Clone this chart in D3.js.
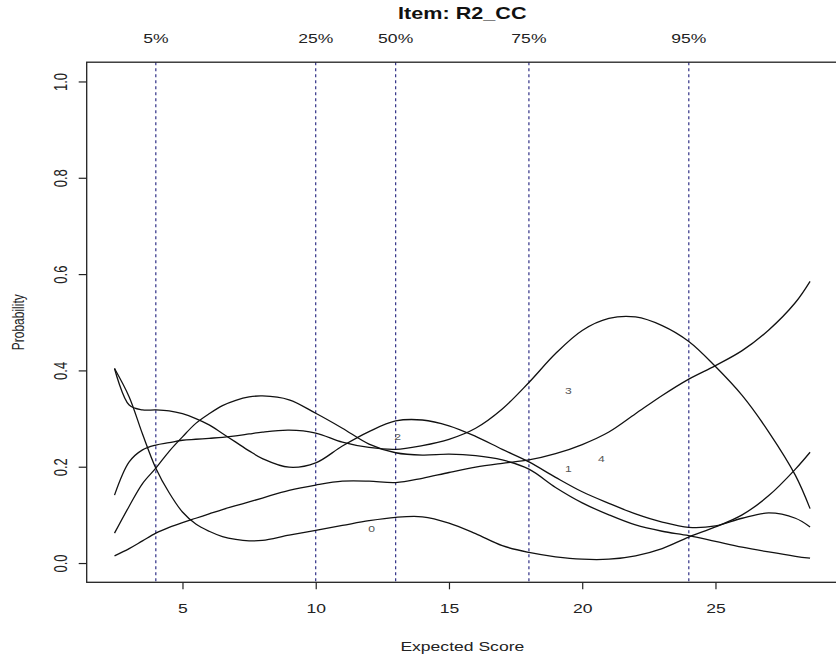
<!DOCTYPE html>
<html><head><meta charset="utf-8">
<script src="https://cdn.jsdelivr.net/npm/d3@7"></script>
<style>body{margin:0;background:#fff}svg{display:block}text{font-family:"Liberation Sans",Arial,sans-serif}</style>
</head><body><svg id="c" width="836" height="661"></svg>
<script>
const title = "Item:  R2_CC";
const xLabel = "Expected Score";
const yLabel = "Probability";
const xTicks = [5, 10, 15, 20, 25];
const yTicks = [0, 0.2, 0.4, 0.6, 0.8, 1.0];
const quantileLabels = ["5%", "25%", "50%", "75%", "95%"];
const quantileValues = [4, 10, 13, 18, 24];
const xs = [2.45, 3, 3.5, 4, 4.5, 5, 5.5, 6, 6.5, 7, 7.5, 8, 9, 10, 11, 12, 13, 14, 15, 16, 17, 18, 19, 20, 21, 22, 23, 24, 25, 26, 27, 28, 28.55];
const option0 = [0.404, 0.345, 0.268, 0.197, 0.146, 0.106, 0.081, 0.066, 0.055, 0.049, 0.046, 0.047, 0.058, 0.068, 0.078, 0.088, 0.095, 0.096, 0.083, 0.061, 0.036, 0.022, 0.013, 0.008, 0.008, 0.015, 0.030, 0.054, 0.075, 0.100, 0.140, 0.195, 0.230];
const option1 = [0.062, 0.118, 0.165, 0.197, 0.232, 0.262, 0.290, 0.310, 0.327, 0.338, 0.345, 0.347, 0.339, 0.311, 0.280, 0.247, 0.229, 0.224, 0.226, 0.223, 0.214, 0.195, 0.157, 0.125, 0.100, 0.079, 0.066, 0.057, 0.045, 0.033, 0.023, 0.014, 0.010];
const option2 = [0.404, 0.328, 0.318, 0.318, 0.316, 0.310, 0.300, 0.287, 0.269, 0.251, 0.233, 0.217, 0.199, 0.208, 0.243, 0.273, 0.295, 0.297, 0.285, 0.263, 0.236, 0.210, 0.178, 0.148, 0.124, 0.102, 0.085, 0.074, 0.077, 0.093, 0.104, 0.093, 0.075];
const option3 = [0.141, 0.210, 0.235, 0.245, 0.250, 0.255, 0.257, 0.259, 0.261, 0.264, 0.268, 0.272, 0.276, 0.270, 0.251, 0.240, 0.236, 0.244, 0.257, 0.280, 0.320, 0.375, 0.435, 0.483, 0.508, 0.511, 0.493, 0.460, 0.408, 0.348, 0.272, 0.182, 0.113];
const option4 = [0.015, 0.030, 0.046, 0.062, 0.074, 0.084, 0.093, 0.102, 0.111, 0.119, 0.127, 0.135, 0.151, 0.162, 0.170, 0.170, 0.167, 0.176, 0.188, 0.199, 0.207, 0.214, 0.227, 0.246, 0.272, 0.310, 0.348, 0.382, 0.410, 0.441, 0.484, 0.541, 0.585];
const optionNames = ["0", "1", "2", "3", "4"];
const labelX = [12.1, 19.48, 13.07, 19.48, 20.72];
const labelY = [0.072, 0.197, 0.263, 0.359, 0.218];

const series = [option0, option1, option2, option3, option4];
const SX = 1.35; // horizontal stretch of the reference's lettering
const svg = d3.select("#c");
const L = 86.7, R = 837.9, T = 62.2, B = 582.3;
const x = d3.scaleLinear().domain([1.406, 29.594]).range([L, R]);
const y = d3.scaleLinear().domain([-0.04, 1.04]).range([B, T]);

svg.append("rect").attr("width", 836).attr("height", 661).attr("fill", "#fff");

function label(g, px, py, txt, size, opts = {}) {
  const t = g.append("text")
    .attr("transform", `translate(${px},${py}) scale(${SX},1)` + (opts.rot ? " rotate(-90)" : ""))
    .attr("text-anchor", "middle").attr("font-size", size)
    .attr("fill", opts.fill || "#222").text(txt);
  if (opts.bold) t.attr("font-weight", "bold");
  return t;
}

// quantile lines
svg.append("g").selectAll("line").data(quantileValues).join("line")
  .attr("x1", d => x(d)).attr("x2", d => x(d)).attr("y1", T).attr("y2", B)
  .attr("stroke", "#1e1e7c").attr("stroke-width", 1.1).attr("stroke-dasharray", "3,3");
const qg = svg.append("g");
quantileValues.forEach((d, i) => label(qg, x(d), 43, quantileLabels[i], 13));

// curves
const line = d3.line().x((d, i) => x(xs[i])).y(d => y(d)).curve(d3.curveCatmullRom.alpha(0.5));
svg.append("g").selectAll("path").data(series).join("path")
  .attr("d", d => line(d)).attr("fill", "none").attr("stroke", "#111").attr("stroke-width", 1.3);

// option labels
const og = svg.append("g");
optionNames.forEach((n, i) => label(og, x(labelX[i]), y(labelY[i]) + 3.5, n, 9, {fill: "#555"}));

// box
svg.append("rect").attr("x", L).attr("y", T).attr("width", R - L).attr("height", B - T)
  .attr("fill", "none").attr("stroke", "#222").attr("stroke-width", 1.3);

// axes
const xa = svg.append("g").attr("transform", `translate(0,${B})`)
  .call(d3.axisBottom(x).tickValues(xTicks).tickSize(7).tickFormat(d3.format("d")));
xa.select(".domain").remove();
xa.selectAll("line").attr("stroke", "#222").attr("stroke-width", 1.2);
xa.selectAll("text").remove();
xa.selectAll(".tick").each(function(d) { label(d3.select(this), 0, 31, d3.format("d")(d), 13); });

const ya = svg.append("g").attr("transform", `translate(${L},0)`)
  .call(d3.axisLeft(y).tickValues(yTicks).tickSize(8).tickFormat(d3.format(".1f")));
ya.select(".domain").remove();
ya.selectAll("line").attr("stroke", "#222").attr("stroke-width", 1.2);
ya.selectAll("text").remove();
ya.selectAll(".tick").each(function(d) { label(d3.select(this), -20, 0, d3.format(".1f")(d), 13, {rot: true}); });

label(svg, (L + R) / 2, 19, title, 16, {bold: true, fill: "#111"});
label(svg, (L + R) / 2, 651, xLabel, 13);
label(svg, 24, (T + B) / 2, yLabel, 12, {rot: true});
</script></body></html>
